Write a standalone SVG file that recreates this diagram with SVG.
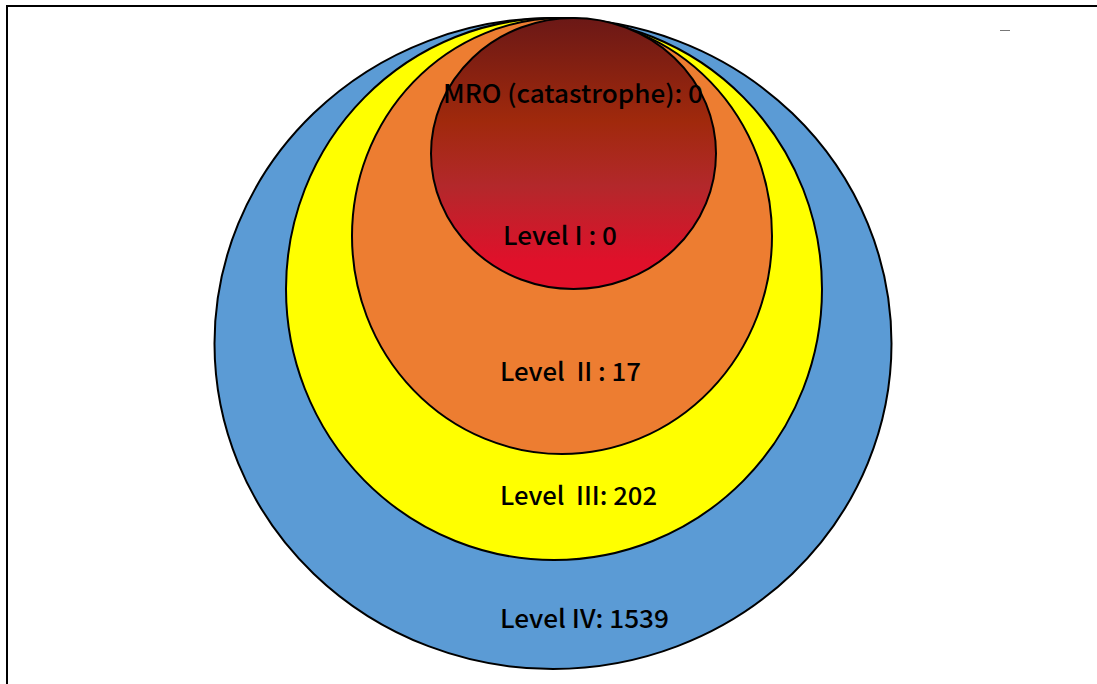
<svg xmlns="http://www.w3.org/2000/svg" width="1097" height="684" viewBox="0 0 1097 684">
<defs>
<style>
.ring{stroke:#000;stroke-width:2}
.lbl{font-family:"Noto Sans CJK SC","Noto Sans",sans-serif;font-size:25px;font-weight:500;fill:#000;white-space:pre}
</style>
<linearGradient id="redg" x1="0" y1="0" x2="0" y2="1">
<stop offset="0" stop-color="#6b1816"/>
<stop offset="0.38" stop-color="#a0290c"/>
<stop offset="0.62" stop-color="#b3282b"/>
<stop offset="0.9" stop-color="#e0102a"/>
<stop offset="1" stop-color="#e2102a"/>
</linearGradient>
</defs>
<rect x="0" y="0" width="1097" height="684" fill="#fff"/>
<rect x="7" y="6" width="1100" height="700" fill="none" stroke="#000" stroke-width="2"/>
<line x1="1000" y1="30.5" x2="1010" y2="30.5" stroke="#777" stroke-width="1"/>
<g id="level4"><ellipse class="ring" cx="553" cy="343.5" rx="338.5" ry="325.5" fill="#5b9bd5"/></g>
<g id="level3"><ellipse class="ring" cx="554" cy="289" rx="268" ry="271" fill="#ffff00"/></g>
<g id="level2"><ellipse class="ring" cx="562" cy="236" rx="210" ry="218" fill="#ed7d31"/></g>
<g id="level1"><ellipse class="ring" cx="573.5" cy="153.5" rx="142.5" ry="135.5" fill="url(#redg)"/></g>
<g id="labels">
<text class="lbl" x="443" y="103" textLength="260" lengthAdjust="spacingAndGlyphs">MRO (catastrophe): 0</text>
<text class="lbl" x="503" y="245" textLength="114" lengthAdjust="spacingAndGlyphs">Level I : 0</text>
<text class="lbl" x="500" y="381" textLength="141" lengthAdjust="spacingAndGlyphs">Level  II : 17</text>
<text class="lbl" x="500" y="505" textLength="157" lengthAdjust="spacingAndGlyphs">Level  III: 202</text>
<text class="lbl" x="500" y="628" textLength="169" lengthAdjust="spacingAndGlyphs">Level IV: 1539</text>
</g>
<g id="connectors"></g>
</svg>
